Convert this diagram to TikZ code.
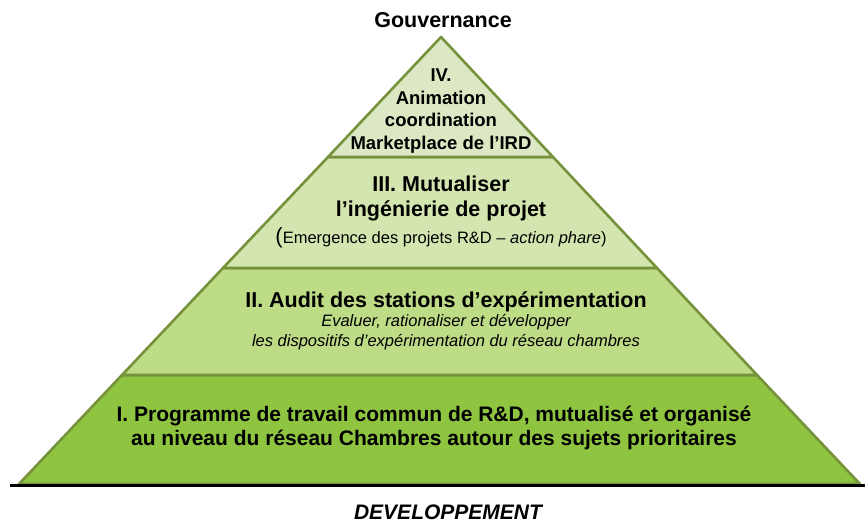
\documentclass[tikz,border=0pt]{standalone}
\usepackage{fontspec}
\setmainfont{Liberation Sans}
\usepackage{xcolor}
\definecolor{edgegreen}{HTML}{76923C}
\definecolor{paleleaf}{HTML}{DCE8C4}
\definecolor{lightleaf}{HTML}{D4E6B0}
\definecolor{midleaf}{HTML}{BEDB86}
\definecolor{darkleaf}{HTML}{8EC440}

\newcommand{\fsz}[2]{\fontsize{#1}{#2}\selectfont}

\tikzset{
  layer/.style={draw=edgegreen, line width=2.6pt, line join=round},
  lbl/.style={align=center, inner sep=0pt},
}

\begin{document}
\begin{tikzpicture}[x=1pt, y=-1pt]
    \useasboundingbox (0,0) rectangle (865,524);

    % corners of the pyramid
    \coordinate (top) at (441,37);
    \coordinate (l4) at (328,157);  \coordinate (r4) at (553,157);
    \coordinate (l3) at (223,268);  \coordinate (r3) at (657,268);
    \coordinate (l2) at (122,375);  \coordinate (r2) at (757,375);
    \coordinate (l1) at (19,484);   \coordinate (r1) at (860,484);

    % layers, from the base up
    \filldraw[layer, fill=darkleaf] (l2) -- (r2) -- (r1) -- (l1) -- cycle;
    \filldraw[layer, fill=midleaf] (l3) -- (r3) -- (r2) -- (l2) -- cycle;
    \filldraw[layer, fill=lightleaf] (l4) -- (r4) -- (r3) -- (l3) -- cycle;
    \filldraw[layer, fill=paleleaf] (top) -- (r4) -- (l4) -- cycle;

    % ground line
    \coordinate (gl) at (10,485);
    \coordinate (gr) at (865,485);
    \draw[line width=3pt] (gl) -- (gr);

    \node[lbl, font=\fsz{21.5}{24}\bfseries] (gouv) at (443,20) {Gouvernance};

    \node[lbl, font=\fsz{18.5}{22.7}\bfseries] (lvlfour) at (441,111)
        {IV.\\Animation\\coordination\\Marketplace de l’IRD};

    \node[lbl, font=\fsz{21.5}{25}\bfseries] (lvlthree) at (441,212)
        {III. Mutualiser\\l’ingénierie de projet\\[2pt]
         \fsz{16.5}{20}\mdseries{\fsz{22}{20}(}Emergence des projets R\&D -- \textit{action phare})};

    \node[lbl, font=\fsz{16.5}{20}\itshape] (lvltwo) at (446,321)
        {\fsz{21.5}{24}\upshape\bfseries II. Audit des stations d’expérimentation\\[-1pt]
         Evaluer, rationaliser et développer\\
         les dispositifs d’expérimentation du réseau chambres};

    \node[lbl, font=\fsz{21}{24}\bfseries] (lvlone) at (434,428)
        {I. Programme de travail commun de R\&D, mutualisé et organisé\\
         au niveau du réseau Chambres autour des sujets prioritaires};

    \node[lbl, font=\fsz{21}{24}\bfseries\itshape] (devel) at (448,512) {DEVELOPPEMENT};
\end{tikzpicture}
\end{document}
